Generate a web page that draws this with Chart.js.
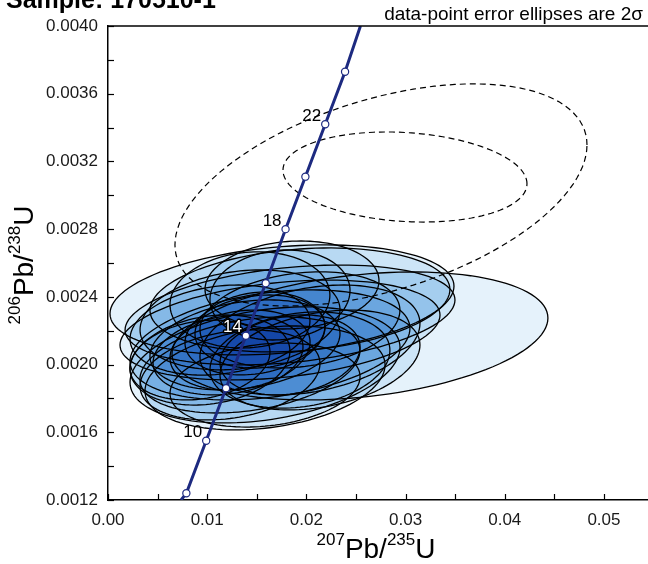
<!DOCTYPE html>
<html><head><meta charset="utf-8">
<script src="https://cdn.jsdelivr.net/npm/chart.js@4/dist/chart.umd.min.js"></script>
<style>html,body{margin:0;padding:0;background:#fff;overflow:hidden;}#wrap{position:relative;width:648px;height:564px;}</style>
</head><body><div id="wrap"><canvas id="c" width="648" height="564"></canvas></div>
<script>
// ---- axis ticks ----
const xTickValues = [0, 0.005, 0.01, 0.015, 0.02, 0.025, 0.03, 0.035, 0.04, 0.045, 0.05];
const xTickLabels = ['0.00', '', '0.01', '', '0.02', '', '0.03', '', '0.04', '', '0.05'];
const yTickValues = [0.0012, 0.0014, 0.0016, 0.0018, 0.0020, 0.0022, 0.0024, 0.0026, 0.0028, 0.0030, 0.0032, 0.0034, 0.0036, 0.0038, 0.0040];
const yTickLabels = ['0.0012', '', '0.0016', '', '0.0020', '', '0.0024', '', '0.0028', '', '0.0032', '', '0.0036', '', '0.0040'];

// ---- concordia curve ----
const concAge = [null, 8, 10, 12, 14, 16, 18, 20, 22, 24, null];
const concX = [0.00737, 0.0079, 0.0099, 0.0119, 0.0139, 0.0159, 0.0179, 0.0199, 0.0219, 0.0239, 0.02545];
const concY = [0.00120, 0.00124, 0.00155, 0.00186, 0.00217, 0.00248, 0.00280, 0.00311, 0.00342, 0.00373, 0.00400];
const concLabelAges = [10, 14, 18, 22];

// ---- filled data-point error ellipses (centre, 2-sigma half extents, correlation) ----
const ellX   = [0.02540, 0.01754, 0.01855, 0.01935, 0.01835, 0.01734, 0.01633, 0.01583, 0.01583, 0.02036, 0.02137,
                0.01431, 0.01331, 0.01935, 0.01129, 0.01230, 0.01431, 0.01381, 0.01028, 0.01935, 0.01583, 0.01734,
                0.01482, 0.01331, 0.01532, 0.01210, 0.01835, 0.00927];
const ellY   = [0.002169, 0.002382, 0.002470, 0.002382, 0.002293, 0.002204, 0.002116, 0.001998, 0.001921, 0.002145, 0.002027,
                0.002382, 0.002264, 0.002264, 0.002204, 0.001939, 0.001998, 0.002116, 0.002027, 0.002027, 0.001879, 0.002411,
                0.002175, 0.002086, 0.002204, 0.002057, 0.002057, 0.002027];
const ellSx  = [0.01895, 0.01734, 0.00877, 0.01512, 0.01663, 0.01613, 0.01411, 0.01361, 0.01210, 0.01109, 0.01008,
                0.00806, 0.01008, 0.01008, 0.00907, 0.00907, 0.01109, 0.00958, 0.00806, 0.00907, 0.00958, 0.00706,
                0.00706, 0.00706, 0.00655, 0.00756, 0.00706, 0.00706];
const ellSy  = [0.000378, 0.000325, 0.000260, 0.000307, 0.000295, 0.000295, 0.000325, 0.000343, 0.000307, 0.000325, 0.000295,
                0.000284, 0.000295, 0.000284, 0.000266, 0.000266, 0.000284, 0.000266, 0.000266, 0.000284, 0.000248, 0.000266,
                0.000236, 0.000236, 0.000225, 0.000236, 0.000236, 0.000236];
const ellRho = [0.28, 0.25, 0.10, 0.20, 0.30, 0.30, 0.30, 0.30, 0.25, 0.30, 0.30,
                0.10, 0.20, 0.20, 0.20, 0.25, 0.30, 0.25, 0.20, 0.20, 0.20, 0.10,
                0.20, 0.20, 0.10, 0.20, 0.20, 0.20];

// ---- rejected (dashed, unfilled) ellipses ----
const dashX   = [0.02752, 0.02994];
const dashY   = [0.003002, 0.003108];
const dashSx  = [0.02077, 0.01230];
const dashSy  = [0.000656, 0.000266];
const dashRho = [0.45, -0.15];

const FONT = '"Liberation Sans", Arial, sans-serif';
const NAVY = '#1d2a80';

function ellipsePath(ctx, xs, ys, cx, cy, sx, sy, rho) {
  const n = 120, k = Math.sqrt(1 - rho * rho);
  ctx.beginPath();
  for (let i = 0; i <= n; i++) {
    const t = i / n * Math.PI * 2;
    const px = xs.getPixelForValue(cx + sx * Math.cos(t));
    const py = ys.getPixelForValue(cy + sy * (rho * Math.cos(t) + k * Math.sin(t)));
    if (i === 0) ctx.moveTo(px, py); else ctx.lineTo(px, py);
  }
  ctx.closePath();
}

const ellipsePlugin = {
  id: 'ellipses',
  beforeDatasetsDraw(chart) {
    const {ctx, chartArea: a, scales: {x, y}} = chart;
    ctx.save();
    ctx.beginPath(); ctx.rect(a.left, a.top, a.right - a.left, a.bottom - a.top); ctx.clip();
    ctx.globalCompositeOperation = 'multiply';
    ctx.fillStyle = 'rgb(229,242,251)';
    for (let i = 0; i < ellX.length; i++) {
      ellipsePath(ctx, x, y, ellX[i], ellY[i], ellSx[i], ellSy[i], ellRho[i]);
      ctx.fill();
    }
    ctx.globalCompositeOperation = 'source-over';
    ctx.strokeStyle = '#000'; ctx.lineWidth = 1.3;
    for (let i = 0; i < ellX.length; i++) {
      ellipsePath(ctx, x, y, ellX[i], ellY[i], ellSx[i], ellSy[i], ellRho[i]);
      ctx.stroke();
    }
    ctx.setLineDash([6, 4]); ctx.lineWidth = 1.2;
    for (let i = 0; i < dashX.length; i++) {
      ellipsePath(ctx, x, y, dashX[i], dashY[i], dashSx[i], dashSy[i], dashRho[i]);
      ctx.stroke();
    }
    ctx.restore();
  },
  afterDatasetsDraw(chart) {
    const {ctx, scales: {x, y}} = chart;
    ctx.save();
    ctx.font = '17px ' + FONT; ctx.textAlign = 'right'; ctx.textBaseline = 'middle';
    concLabelAges.forEach(age => {
      const i = concAge.indexOf(age);
      const px = x.getPixelForValue(concX[i]) - 4, py = y.getPixelForValue(concY[i]) - 8;
      if (age === 14) {
        ctx.lineWidth = 3; ctx.strokeStyle = '#000'; ctx.lineJoin = 'round';
        ctx.strokeText(String(age), px, py);
        ctx.fillStyle = '#fff'; ctx.fillText(String(age), px, py);
      } else {
        ctx.fillStyle = '#000'; ctx.fillText(String(age), px, py);
      }
    });
    ctx.restore();
  },
  afterDraw(chart) {
    const {ctx, chartArea: a, scales: {x, y}} = chart;
    ctx.save();
    ctx.strokeStyle = '#000'; ctx.lineWidth = 1.5;
    ctx.beginPath(); ctx.moveTo(a.left, a.top); ctx.lineTo(a.right, a.top); ctx.stroke();
    ctx.lineWidth = 1.2;
    xTickValues.forEach(v => { const px = Math.round(x.getPixelForValue(v)) + 0.5; ctx.beginPath(); ctx.moveTo(px, a.bottom); ctx.lineTo(px, a.bottom - 6); ctx.stroke(); });
    yTickValues.forEach(v => { const py = Math.round(y.getPixelForValue(v)) + 0.5; ctx.beginPath(); ctx.moveTo(a.left, py); ctx.lineTo(a.left + 6, py); ctx.stroke(); });
    ctx.fillStyle = '#000';
    ctx.font = 'bold 25px ' + FONT; ctx.textAlign = 'left'; ctx.textBaseline = 'alphabetic';
    ctx.fillText('Sample: 170510-1', 6, 8);
    ctx.font = '19px ' + FONT; ctx.textAlign = 'right';
    ctx.fillText('data-point error ellipses are 2\u03c3', 643, 20);
    const parts = [['207', true], ['Pb/', false], ['235', true], ['U', false]];
    const big = '28px ' + FONT, small = '17px ' + FONT;
    let w = 0;
    parts.forEach(p => { ctx.font = p[1] ? small : big; w += ctx.measureText(p[0]).width; });
    let cx = 376 - w / 2;
    ctx.textAlign = 'left';
    parts.forEach(p => { ctx.font = p[1] ? small : big; ctx.fillText(p[0], cx, p[1] ? 545 : 558); cx += ctx.measureText(p[0]).width; });
    const yparts = [['206', true], ['Pb/', false], ['238', true], ['U', false]];
    ctx.translate(33, 265); ctx.rotate(-Math.PI / 2);
    w = 0;
    yparts.forEach(p => { ctx.font = p[1] ? small : big; w += ctx.measureText(p[0]).width; });
    let cy = -w / 2;
    yparts.forEach(p => { ctx.font = p[1] ? small : big; ctx.fillText(p[0], cy, p[1] ? -13 : 0); cy += ctx.measureText(p[0]).width; });
    ctx.restore();
  }
};

new Chart(document.getElementById('c'), {
  type: 'scatter',
  data: {
    datasets: [{
      data: concX.map((v, i) => ({x: v, y: concY[i]})),
      showLine: true,
      borderColor: NAVY,
      borderWidth: 3,
      pointRadius: concAge.map(a => a === null ? 0 : 3.6),
      pointBackgroundColor: '#fff',
      pointBorderColor: NAVY,
      pointBorderWidth: 1.2,
      tension: 0
    }]
  },
  options: {
    responsive: false,
    animation: false,
    devicePixelRatio: 1,
    layout: {padding: {top: 26, right: 0, left: 0, bottom: 0}},
    plugins: {legend: {display: false}, tooltip: {enabled: false}},
    scales: {
      x: {
        type: 'linear', min: 0, max: 0.05444,
        afterBuildTicks: s => { s.ticks = xTickValues.map(v => ({value: v})); },
        afterFit: s => { s.height = 64; },
        grid: {display: false, drawTicks: false},
        border: {display: true, color: '#000', width: 1.5},
        ticks: {autoSkip: false, maxRotation: 0, padding: 10, color: '#1a1a1a', font: {family: FONT, size: 17},
          callback: (v, i) => xTickLabels[i]}
      },
      y: {
        type: 'linear', min: 0.0012, max: 0.0040,
        afterBuildTicks: s => { s.ticks = yTickValues.map(v => ({value: v})); },
        afterFit: s => { s.width = 108; },
        grid: {display: false, drawTicks: false},
        border: {display: true, color: '#000', width: 1.5},
        ticks: {autoSkip: false, padding: 10, color: '#1a1a1a', font: {family: FONT, size: 17},
          callback: (v, i) => yTickLabels[i]}
      }
    }
  },
  plugins: [ellipsePlugin]
});
</script>
</body></html>
